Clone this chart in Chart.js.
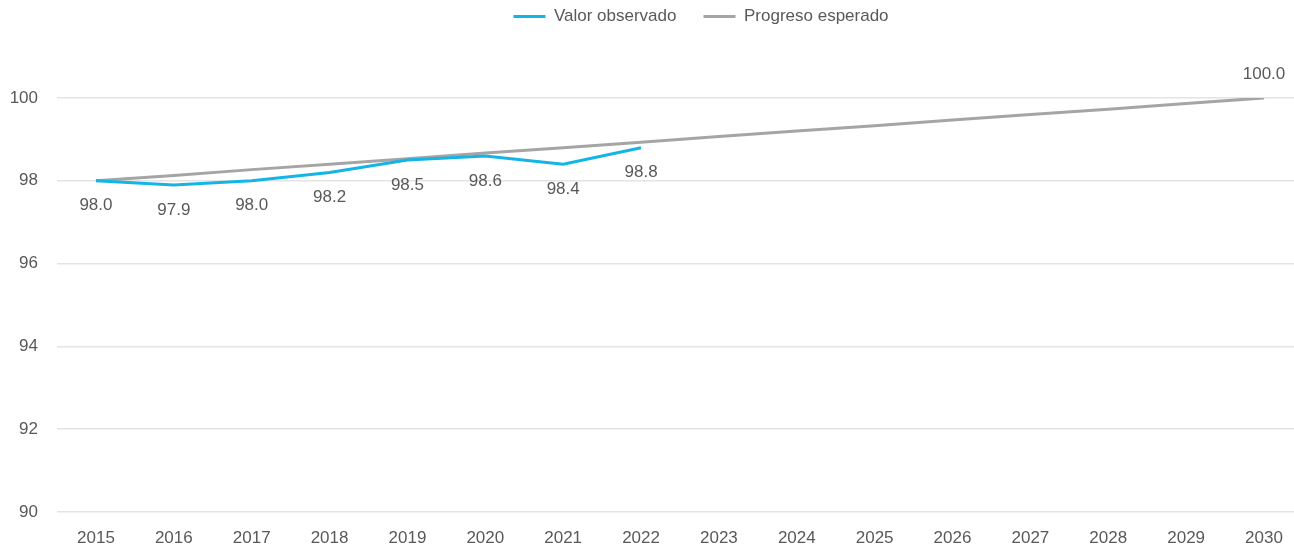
<!DOCTYPE html>
<html>
<head>
<meta charset="utf-8">
<script src="https://cdn.jsdelivr.net/npm/chart.js@4.4.1/dist/chart.umd.min.js"></script>
<style>
  html, body { margin: 0; padding: 0; background: #ffffff; }
  #wrap { width: 1294px; height: 546px; }
</style>
</head>
<body>
<div id="wrap"><canvas id="chart" width="1294" height="546"></canvas></div>
<script>
// datos
const years = [2015, 2016, 2017, 2018, 2019, 2020, 2021, 2022, 2023, 2024, 2025, 2026, 2027, 2028, 2029, 2030];
const observedYears = [2015, 2016, 2017, 2018, 2019, 2020, 2021, 2022];
const observedValues = [98.0, 97.9, 98.0, 98.2, 98.5, 98.6, 98.4, 98.8];
const expectedValues = [98.0, 98.13, 98.27, 98.4, 98.53, 98.67, 98.8, 98.93, 99.07, 99.2, 99.33, 99.47, 99.6, 99.73, 99.87, 100.0];
const yTicks = [90, 92, 94, 96, 98, 100];

const TEXT = '#595959';
const FONT = "'Liberation Sans Narrow', 'Arial Narrow', 'Liberation Sans', Arial, sans-serif";
const FSIZE = 17;

// etiquetas de valores (sin plugin externo)
const valueLabels = {
    id: 'valueLabels',
    afterDatasetsDraw(chart) {
        const ctx = chart.ctx;
        ctx.save();
        ctx.font = FSIZE + 'px ' + FONT;
        ctx.fillStyle = TEXT;
        ctx.textAlign = 'center';
        ctx.textBaseline = 'middle';
        const obs = chart.getDatasetMeta(0);
        obs.data.forEach((pt, i) => {
            ctx.fillText(observedValues[i].toFixed(1), pt.x, pt.y + 25);
        });
        const exp = chart.getDatasetMeta(1);
        const last = exp.data[exp.data.length - 1];
        ctx.fillText(expectedValues[expectedValues.length - 1].toFixed(1), last.x, last.y - 24);
        ctx.restore();
    }
};

// leyenda arriba, con hueco hasta el área del gráfico
const legendSpace = {
    id: 'legendSpace',
    beforeInit(chart) {
        const lg = chart.legend;
        if (!lg) return;
        const fit = lg.fit;
        lg.fit = function () {
            fit.call(this);
            this.height = 98;
        };
        const draw = lg.draw;
        lg.draw = function () {
            const c = this.ctx;
            c.save();
            c.translate(54, -19);
            draw.call(this);
            c.restore();
        };
    }
};

const ctx = document.getElementById('chart').getContext('2d');
new Chart(ctx, {
    type: 'line',
    data: {
        datasets: [{
            label: 'Valor observado',
            data: observedYears.map((y, i) => ({ x: y, y: observedValues[i] })),
            borderColor: '#14b4e6',
            backgroundColor: '#14b4e6',
            borderWidth: 3,
            pointRadius: 0,
            tension: 0
        }, {
            label: 'Progreso esperado',
            data: years.map((y, i) => ({ x: y, y: expectedValues[i] })),
            borderColor: '#a5a5a5',
            backgroundColor: '#a5a5a5',
            borderWidth: 3,
            pointRadius: 0,
            tension: 0
        }]
    },
    options: {
        responsive: false,
        animation: false,
        layout: { padding: 0 },
        plugins: {
            tooltip: { enabled: false },
            legend: {
                position: 'top',
                align: 'center',
                labels: {
                    color: TEXT,
                    font: { family: FONT, size: FSIZE },
                    boxWidth: 32,
                    boxHeight: 3,
                    padding: 27,
                    generateLabels(chart) {
                        return chart.data.datasets.map((ds, i) => ({
                            text: ds.label,
                            fillStyle: ds.borderColor,
                            strokeStyle: ds.borderColor,
                            lineWidth: 0,
                            fontColor: TEXT,
                            datasetIndex: i
                        }));
                    }
                }
            }
        },
        scales: {
            x: {
                type: 'linear',
                min: 2014.5,
                max: 2030.385,
                grid: { display: false },
                border: { display: false },
                afterBuildTicks(scale) {
                    scale.ticks = years.map(v => ({ value: v }));
                },
                afterFit(scale) { scale.height = 34; },
                ticks: {
                    color: TEXT,
                    font: { family: FONT, size: FSIZE },
                    padding: 8,
                    maxRotation: 0,
                    autoSkip: false,
                    callback: v => String(v)
                }
            },
            y: {
                min: 90,
                max: 100,
                afterBuildTicks(scale) {
                    scale.ticks = yTicks.map(v => ({ value: v }));
                },
                afterFit(scale) { scale.width = 57; },
                grid: { color: '#e4e4e4', lineWidth: 1.5, drawTicks: false },
                border: { display: false },
                ticks: {
                    color: TEXT,
                    font: { family: FONT, size: FSIZE },
                    padding: 19
                }
            }
        }
    },
    plugins: [valueLabels, legendSpace]
});
</script>
</body>
</html>
